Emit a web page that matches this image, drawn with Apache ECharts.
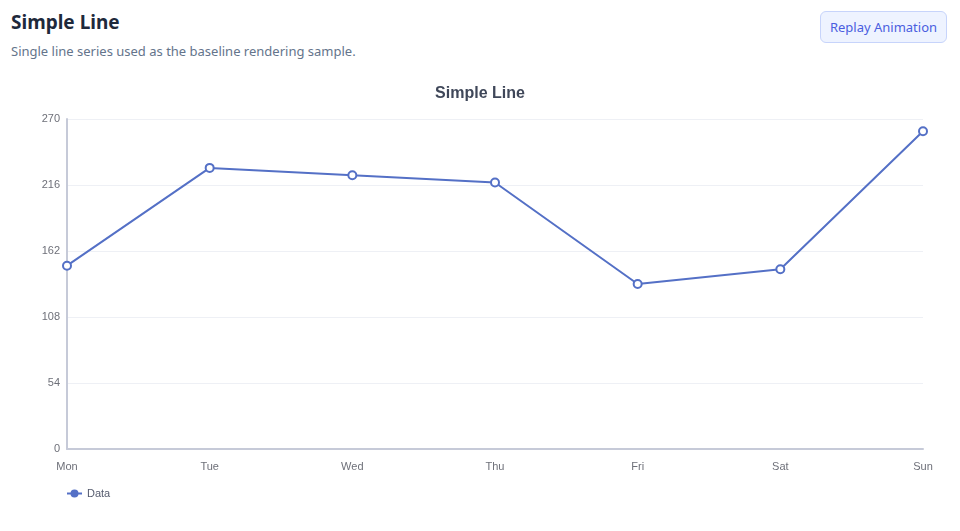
<!doctype html>
<html>
<head>
<meta charset="utf-8">
<title>Simple Line</title>
<script src="https://cdn.jsdelivr.net/npm/echarts@6/dist/echarts.min.js"></script>
<style>
  body { margin: 0; background: #fff; font-family: "Noto Sans", "DejaVu Sans", sans-serif; }
  .head { position: absolute; left: 11px; top: 9px; }
  .head h1 { margin: 0; font-size: 19px; font-weight: 700; color: #1e293b; line-height: 26px; }
  .head p { margin: 7px 0 0 0; font-size: 13px; color: #64748b; }
  #replay { position: absolute; left: 820px; top: 11px; width: 127px; height: 32px;
    background: #eef3ff; border: 1px solid #c7d4fb; border-radius: 6px;
    color: #4a5ee0; font-size: 13px; font-family: inherit; }
  #main { position: absolute; left: 0; top: 70px; width: 960px; height: 461px; }
</style>
</head>
<body>
<div class="head">
  <h1>Simple Line</h1>
  <p>Single line series used as the baseline rendering sample.</p>
</div>
<button id="replay">Replay Animation</button>
<div id="main"></div>
<script type="text/javascript">
var days = ['Mon', 'Tue', 'Wed', 'Thu', 'Fri', 'Sat', 'Sun'];
var values = [150, 230, 224, 218, 135, 147, 260];

var myChart = echarts.init(document.getElementById('main'));
var option = {
  animation: false,
  color: ['#5470c6'],
  title: {
    text: 'Simple Line',
    left: 'center',
    top: 11,
    textStyle: { fontSize: 16, fontWeight: 'bold', color: '#3f4759' }
  },
  legend: {
    data: ['Data'],
    left: 61,
    top: 413,
    itemWidth: 15,
    itemHeight: 10,
    itemStyle: { color: '#5470c6', borderWidth: 0 },
    textStyle: { fontSize: 11, color: '#555b6e' }
  },
  grid: { left: 67, right: 37, top: 49, bottom: 82 },
  xAxis: {
    type: 'category',
    boundaryGap: false,
    data: days,
    axisTick: { show: false },
    axisLine: { lineStyle: { color: '#c6cad8', width: 2 } },
    axisLabel: { fontSize: 11, color: '#6e7079', margin: 12 }
  },
  yAxis: {
    type: 'value',
    min: 0,
    max: 270,
    interval: 54,
    axisLine: { show: true, lineStyle: { color: '#c6cad8', width: 2 } },
    axisLabel: { fontSize: 11, color: '#6e7079', margin: 7 },
    splitLine: { lineStyle: { color: '#eef0f5' } }
  },
  series: [{
    name: 'Data',
    type: 'line',
    data: values,
    symbol: 'circle',
    symbolSize: 8,
    itemStyle: { color: '#fff', borderColor: '#5470c6', borderWidth: 2 },
    lineStyle: { width: 2, color: '#5470c6' }
  }]
};
myChart.setOption(option);
document.getElementById('replay').onclick = function () {
  myChart.clear();
  myChart.setOption(option);
};
</script>
</body>
</html>
